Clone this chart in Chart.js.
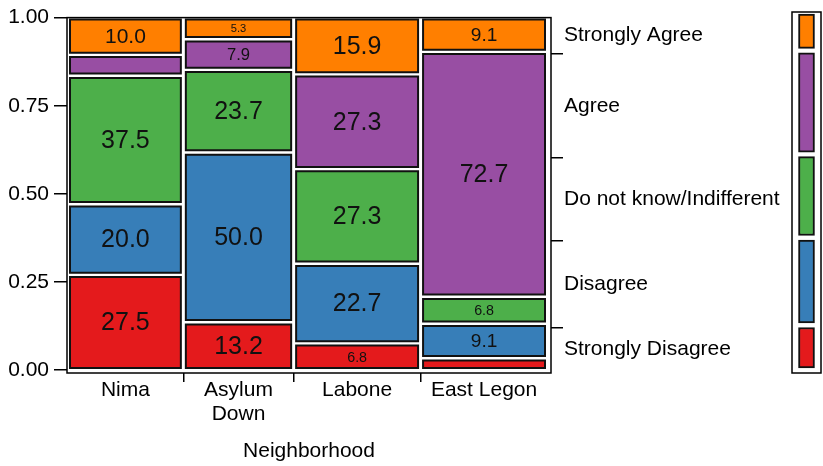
<!DOCTYPE html>
<html lang="en">
<head>
<meta charset="UTF-8">
<title>Agreement by Neighborhood</title>
<style>
    body { margin: 0; background: #fff; }
    #wrap { position: relative; width: 823px; height: 466px; }
    canvas { position: absolute; top: 0; }
    #main { left: 0; }
    #strip { left: 790px; }
</style>
</head>
<body>
<div id="wrap">
    <canvas id="main" width="823" height="466"></canvas>
    <canvas id="strip" width="33" height="466"></canvas>
</div>
<script src="https://cdn.jsdelivr.net/npm/chart.js"></script>
<script>
// data (percent of each neighborhood)
const neighborhoods = ['Nima', 'Asylum Down', 'Labone', 'East Legon'];
const neighborhoodLabels = ['Nima', ['Asylum', 'Down'], 'Labone', 'East Legon'];
const respondents = [40, 38, 44, 44]; // column widths
const responses = ['Strongly Disagree', 'Disagree', 'Do not know/Indifferent', 'Agree', 'Strongly Agree'];
const stronglyDisagree = [27.5, 13.2, 6.8, 2.3];
const disagree = [20.0, 50.0, 22.7, 9.1];
const indifferent = [37.5, 23.7, 27.3, 6.8];
const agree = [5.0, 7.9, 27.3, 72.7];
const stronglyAgree = [10.0, 5.3, 15.9, 9.1];
const yTicks = [0, 0.25, 0.5, 0.75, 1];

const series = [stronglyDisagree, disagree, indifferent, agree, stronglyAgree];
const colors = ['#E41A1C', '#377EB8', '#4DAF4A', '#984EA3', '#FF7F00'];

const FONT = '"Liberation Sans", Arial, Helvetica, sans-serif';
Chart.defaults.font.family = FONT;
Chart.defaults.color = '#000';

// mosaic layout
const GAP_X = 0.0105, GAP_Y = 0.0126, Y_LO = 0.0056, Y_HI = 0.9944;
const X_MIN = -0.0063, X_MAX = 1.0126, Y_MIN = -0.0084;
const total = respondents.reduce((a, b) => a + b, 0);
const colSpan = 1 - GAP_X * (neighborhoods.length - 1);
const avail = (Y_HI - Y_LO) - GAP_Y * (responses.length - 1);

const tiles = [];
const columns = [];
let cx = 0;
neighborhoods.forEach((n, i) => {
    const x0 = cx, x1 = cx + respondents[i] / total * colSpan;
    columns.push({ x0, x1 });
    const colSum = series.reduce((a, s) => a + s[i], 0);
    let cy = Y_LO;
    series.forEach((s, k) => {
        const h = s[i] / colSum * avail;
        tiles.push({ x0, x1, y0: cy, y1: cy + h, pct: s[i], k });
        cy += h + GAP_Y;
    });
    cx = x1 + GAP_X;
});

// marginal share of each response
const marginals = series.map(s => s.reduce((a, v, i) => {
    const colSum = series.reduce((b, t) => b + t[i], 0);
    return a + v / colSum * respondents[i] / total;
}, 0));

const xTickDefs = [];
columns.forEach((c, i) => {
    xTickDefs.push({ value: (c.x0 + c.x1) / 2, label: neighborhoodLabels[i], mark: false });
    if (i < columns.length - 1) {
        xTickDefs.push({ value: (c.x1 + columns[i + 1].x0) / 2, label: '', mark: true });
    }
});

const rightTickDefs = [];
let acc = 0;
marginals.forEach((m, k) => {
    rightTickDefs.push({ value: acc + m / 2, label: responses[k], mark: false });
    acc += m;
    if (k < marginals.length - 1) rightTickDefs.push({ value: acc, label: '', mark: true });
});

const tileSets = tiles.map(t => ({
    data: [
        { x: t.x0, y: t.y0 }, { x: t.x1, y: t.y0 }, { x: t.x1, y: t.y1 },
        { x: t.x0, y: t.y1 }, { x: t.x0, y: t.y0 }
    ],
    showLine: true,
    fill: 'shape',
    backgroundColor: colors[t.k],
    borderColor: '#111',
    borderWidth: 2,
    borderCapStyle: 'square',
    borderJoinStyle: 'miter',
    pointRadius: 0,
    tension: 0
}));

const frame = {
    id: 'frame',
    afterDraw(chart) {
        const { ctx, chartArea: a } = chart;
        ctx.save();
        ctx.strokeStyle = '#000';
        ctx.lineWidth = 1.5;
        ctx.strokeRect(a.left, a.top, a.right - a.left, a.bottom - a.top);
        ctx.restore();
    }
};

const tileLabels = {
    id: 'tileLabels',
    afterDatasetsDraw(chart) {
        const { ctx, scales: { x, y } } = chart;
        ctx.save();
        ctx.fillStyle = '#111';
        ctx.textAlign = 'center';
        ctx.textBaseline = 'middle';
        tiles.forEach(t => {
            if (t.pct < 5.2) return;
            const size = Math.min(25, Math.max(11, 2.1 * t.pct));
            ctx.font = size + 'px ' + FONT;
            ctx.fillText(t.pct.toFixed(1),
                x.getPixelForValue((t.x0 + t.x1) / 2),
                y.getPixelForValue((t.y0 + t.y1) / 2) + 1);
        });
        ctx.restore();
    }
};

const markColor = defs => c => (defs[c.index] && defs[c.index].mark) ? '#000' : 'rgba(0,0,0,0)';

new Chart(document.getElementById('main'), {
    type: 'scatter',
    data: { datasets: tileSets },
    options: {
        responsive: false,
        animation: false,
        layout: { padding: { top: 12, left: 0, right: 0, bottom: 0 } },
        plugins: { legend: { display: false }, tooltip: { enabled: false } },
        scales: {
            x: {
                type: 'linear', min: X_MIN, max: X_MAX,
                afterBuildTicks: s => { s.ticks = xTickDefs.map(t => ({ value: t.value })); },
                ticks: {
                    callback: (v, i) => xTickDefs[i].label,
                    autoSkip: false, maxRotation: 0, padding: -4,
                    font: { size: 21, lineHeight: 1.15 }
                },
                grid: { drawOnChartArea: false, tickLength: 9, lineWidth: 1.5, color: markColor(xTickDefs) },
                border: { display: false },
                title: { display: true, text: 'Neighborhood', font: { size: 21 }, padding: { top: 0, bottom: 2 } },
                afterFit: s => { s.height = 93; }
            },
            y: {
                type: 'linear', min: Y_MIN, max: 1,
                afterBuildTicks: s => { s.ticks = yTicks.map(v => ({ value: v })); },
                ticks: { callback: v => v.toFixed(2), padding: 5, font: { size: 21 } },
                grid: { drawOnChartArea: false, tickLength: 13, lineWidth: 1.5, color: '#000' },
                border: { display: false },
                afterFit: s => { s.width = 67; }
            },
            y2: {
                type: 'linear', position: 'right', min: Y_MIN, max: 1,
                afterBuildTicks: s => { s.ticks = rightTickDefs.map(t => ({ value: t.value })); },
                ticks: {
                    callback: (v, i) => rightTickDefs[i].label,
                    autoSkip: false, padding: 1, font: { size: 21 }
                },
                grid: { drawOnChartArea: false, tickLength: 12, lineWidth: 1.5, color: markColor(rightTickDefs) },
                border: { display: false },
                afterFit: s => { s.width = 272; }
            }
        }
    },
    plugins: [frame, tileLabels]
});

// marginal strip on the right
const stripSets = [];
let sy = Y_LO;
marginals.forEach((m, k) => {
    const h = m * avail;
    stripSets.push({
        data: [[sy, sy + h]],
        backgroundColor: colors[k],
        borderColor: '#111',
        borderWidth: 2,
        borderSkipped: false,
        grouped: false,
        barThickness: 16
    });
    sy += h + GAP_Y;
});

new Chart(document.getElementById('strip'), {
    type: 'bar',
    data: { labels: [''], datasets: stripSets },
    options: {
        responsive: false,
        animation: false,
        layout: { padding: { top: 12, left: 2, right: 2, bottom: 93 } },
        plugins: { legend: { display: false }, tooltip: { enabled: false } },
        scales: {
            x: { display: false },
            y: { display: false, min: Y_MIN, max: 1 }
        }
    },
    plugins: [frame]
});
</script>
</body>
</html>
